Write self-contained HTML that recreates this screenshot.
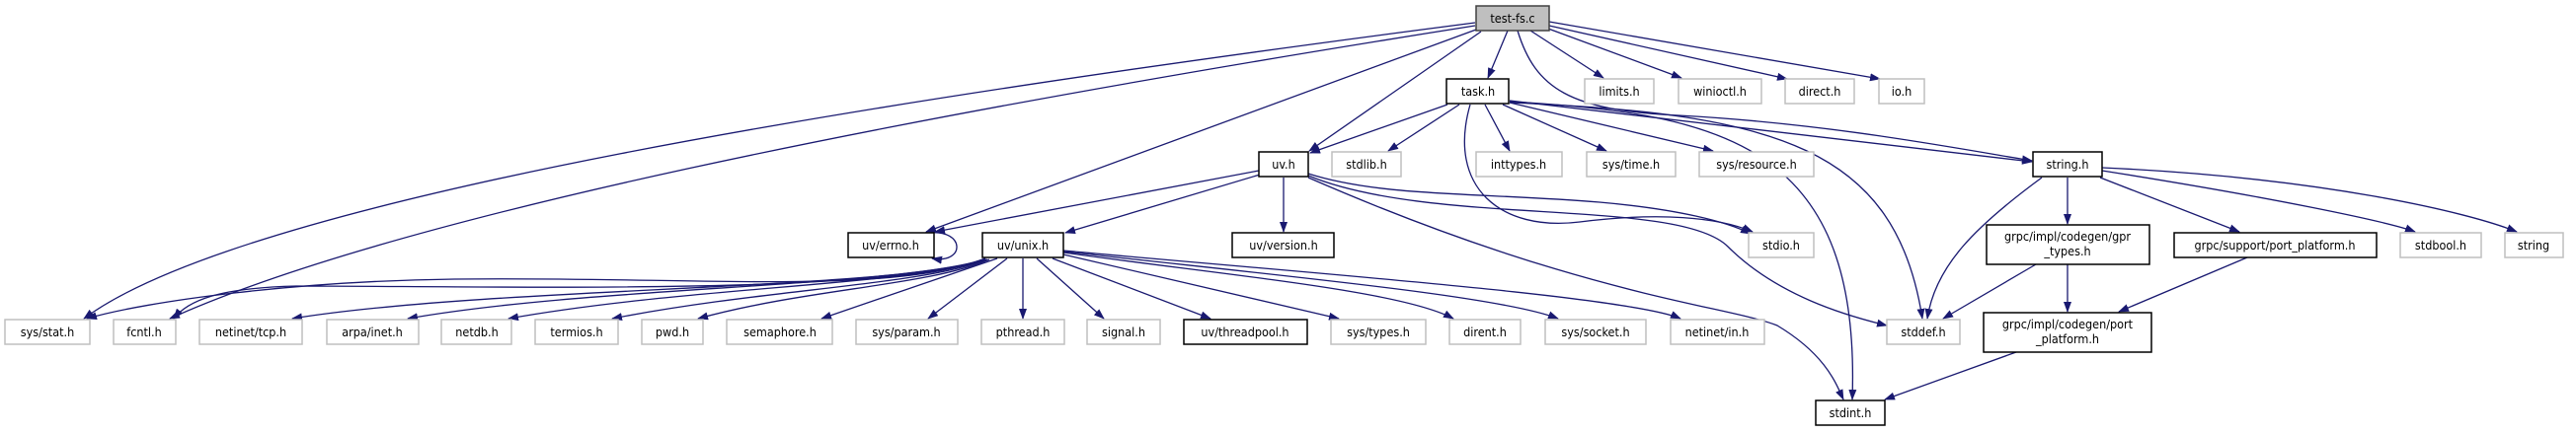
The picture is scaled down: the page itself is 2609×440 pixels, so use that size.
<!DOCTYPE html>
<html><head><meta charset="utf-8"><style>
html,body{margin:0;padding:0;background:#fff;}
svg{display:block}
text{font-family:"DejaVu Sans Condensed","DejaVu Sans","Liberation Sans",sans-serif;font-size:12.5px;fill:#000;text-anchor:middle}
.e{fill:none;stroke:#191970;stroke-width:1.3}
.g{fill:#fff;stroke:#bfbfbf;stroke-width:1.5}
.b{fill:#fff;stroke:#000;stroke-width:1.5}
</style></head><body>
<svg width="2609" height="440" viewBox="0 0 2609 440" xmlns="http://www.w3.org/2000/svg">
<defs><marker id="a" markerWidth="11" markerHeight="8" refX="10" refY="4" orient="auto" markerUnits="userSpaceOnUse"><path d="M0,0 L11,4 L0,8 z" fill="#191970"/></marker></defs>
<g class="e" marker-end="url(#a)">
<path d="M1494,23 C900,100 250,200 85,323"/>
<path d="M1494,26 C900,120 400,220 172,323"/>
<path d="M1495,30 L938,235"/>
<path d="M1500,32 L1326,153"/>
<path d="M1527,31 L1507,79"/>
<path d="M1550,31 L1624,79"/>
<path d="M1568,29 L1703,79"/>
<path d="M1569,26 L1810,80"/>
<path d="M1569,22 L1904,80"/>
<path d="M1537,31 C1555,90 1590,112 1700,117 C1850,125 1980,150 2058,163"/>
<path d="M1529,102 L2058,164"/>
<path d="M1529,104 C1800,115 1920,150 1947,323"/>
<path d="M1529,103 C1750,115 1885,150 1876,405"/>
<path d="M1466,106 L1327,155"/>
<path d="M1478,106 L1406,153"/>
<path d="M1504,106 L1529,153"/>
<path d="M1522,106 L1627,153"/>
<path d="M1529,104 L1735,153"/>
<path d="M1489,106 C1465,190 1520,235 1600,225 C1680,215 1740,220 1775,235"/>
<path d="M1275,173 L947,235"/>
<path d="M1276,177 L1079,236"/>
<path d="M1300,180 L1300,235"/>
<path d="M1325,176 C1400,200 1500,195 1620,205 C1700,212 1750,225 1773,237"/>
<path d="M1325,178 C1450,230 1700,200 1750,250 C1800,300 1870,320 1911,330"/>
<path d="M1325,180 C1600,300 1750,310 1800,330 C1850,360 1860,390 1867,405"/>
<path d="M940,236 C978,232 978,268 944,262"/>
<path d="M998,262 C900,300 700,280 460,283 C300,285 150,305 88,323"/>
<path d="M998,262 C900,300 500,290 300,290 C220,292 190,305 176,323"/>
<path d="M998,263 C900,295 500,290 296,323"/>
<path d="M998,263 C900,292 600,290 413,323"/>
<path d="M999,263 C920,290 700,290 515,323"/>
<path d="M1000,263 C930,290 780,292 620,323"/>
<path d="M1002,263 C940,290 820,292 707,323"/>
<path d="M1010,262 L832,323"/>
<path d="M1020,262 L940,323"/>
<path d="M1036,262 L1036,323"/>
<path d="M1050,262 L1118,323"/>
<path d="M1066,262 L1226,323"/>
<path d="M1077,258 L1356,323"/>
<path d="M1077,256 C1250,280 1420,295 1472,323"/>
<path d="M1077,255 C1300,280 1520,300 1578,323"/>
<path d="M1077,254 C1300,275 1650,300 1702,323"/>
<path d="M2068,180 C2000,230 1960,270 1952,323"/>
<path d="M2094,180 L2094,227"/>
<path d="M2127,180 L2268,235"/>
<path d="M2129,173 C2300,200 2420,225 2446,235"/>
<path d="M2129,170 C2350,180 2500,215 2549,235"/>
<path d="M2062,268 L1968,323"/>
<path d="M2094,268 L2094,316"/>
<path d="M2276,261 L2146,316"/>
<path d="M2042,357 L1909,405"/>
</g>
<rect x="1495" y="6" width="74" height="25" fill="#bfbfbf" stroke="#404040" stroke-width="1.5"/><text x="1532" y="23">test-fs.c</text>
<rect class="b" x="1465" y="80" width="63" height="25"/><text x="1497" y="97">task.h</text>
<rect class="g" x="1605" y="80" width="70" height="25"/><text x="1640" y="97">limits.h</text>
<rect class="g" x="1700" y="80" width="84" height="25"/><text x="1742" y="97">winioctl.h</text>
<rect class="g" x="1808" y="80" width="70" height="25"/><text x="1843" y="97">direct.h</text>
<rect class="g" x="1903" y="80" width="46" height="25"/><text x="1926" y="97">io.h</text>
<rect class="b" x="1275" y="154" width="50" height="25"/><text x="1300" y="171">uv.h</text>
<rect class="g" x="1349" y="154" width="70" height="25"/><text x="1384" y="171">stdlib.h</text>
<rect class="g" x="1495" y="154" width="87" height="25"/><text x="1538" y="171">inttypes.h</text>
<rect class="g" x="1607" y="154" width="90" height="25"/><text x="1652" y="171">sys/time.h</text>
<rect class="g" x="1721" y="154" width="116" height="25"/><text x="1779" y="171">sys/resource.h</text>
<rect class="b" x="2059" y="154" width="70" height="25"/><text x="2094" y="171">string.h</text>
<rect class="b" x="859" y="236" width="87" height="25"/><text x="902" y="253">uv/errno.h</text>
<rect class="b" x="995" y="236" width="82" height="25"/><text x="1036" y="253">uv/unix.h</text>
<rect class="b" x="1248" y="236" width="103" height="25"/><text x="1300" y="253">uv/version.h</text>
<rect class="g" x="1771" y="236" width="66" height="25"/><text x="1804" y="253">stdio.h</text>
<rect class="b" x="2012" y="228" width="165" height="40"/><text x="2094" y="244">grpc/impl/codegen/gpr</text><text x="2094" y="259">_types.h</text>
<rect class="b" x="2202" y="236" width="205" height="25"/><text x="2304" y="253">grpc/support/port_platform.h</text>
<rect class="g" x="2431" y="236" width="82" height="25"/><text x="2472" y="253">stdbool.h</text>
<rect class="g" x="2537" y="236" width="59" height="25"/><text x="2566" y="253">string</text>
<rect class="g" x="5" y="324" width="86" height="25"/><text x="48" y="341">sys/stat.h</text>
<rect class="g" x="115" y="324" width="63" height="25"/><text x="146" y="341">fcntl.h</text>
<rect class="g" x="202" y="324" width="104" height="25"/><text x="254" y="341">netinet/tcp.h</text>
<rect class="g" x="331" y="324" width="93" height="25"/><text x="377" y="341">arpa/inet.h</text>
<rect class="g" x="447" y="324" width="71" height="25"/><text x="483" y="341">netdb.h</text>
<rect class="g" x="542" y="324" width="84" height="25"/><text x="584" y="341">termios.h</text>
<rect class="g" x="650" y="324" width="62" height="25"/><text x="681" y="341">pwd.h</text>
<rect class="g" x="736" y="324" width="107" height="25"/><text x="790" y="341">semaphore.h</text>
<rect class="g" x="867" y="324" width="103" height="25"/><text x="918" y="341">sys/param.h</text>
<rect class="g" x="994" y="324" width="84" height="25"/><text x="1036" y="341">pthread.h</text>
<rect class="g" x="1101" y="324" width="74" height="25"/><text x="1138" y="341">signal.h</text>
<rect class="b" x="1199" y="324" width="125" height="25"/><text x="1261" y="341">uv/threadpool.h</text>
<rect class="g" x="1348" y="324" width="96" height="25"/><text x="1396" y="341">sys/types.h</text>
<rect class="g" x="1468" y="324" width="72" height="25"/><text x="1504" y="341">dirent.h</text>
<rect class="g" x="1565" y="324" width="102" height="25"/><text x="1616" y="341">sys/socket.h</text>
<rect class="g" x="1692" y="324" width="95" height="25"/><text x="1739" y="341">netinet/in.h</text>
<rect class="g" x="1911" y="324" width="74" height="25"/><text x="1948" y="341">stddef.h</text>
<rect class="b" x="2009" y="317" width="170" height="40"/><text x="2094" y="333">grpc/impl/codegen/port</text><text x="2094" y="348">_platform.h</text>
<rect class="b" x="1839" y="406" width="70" height="25"/><text x="1874" y="423">stdint.h</text>
</svg>
</body></html>
